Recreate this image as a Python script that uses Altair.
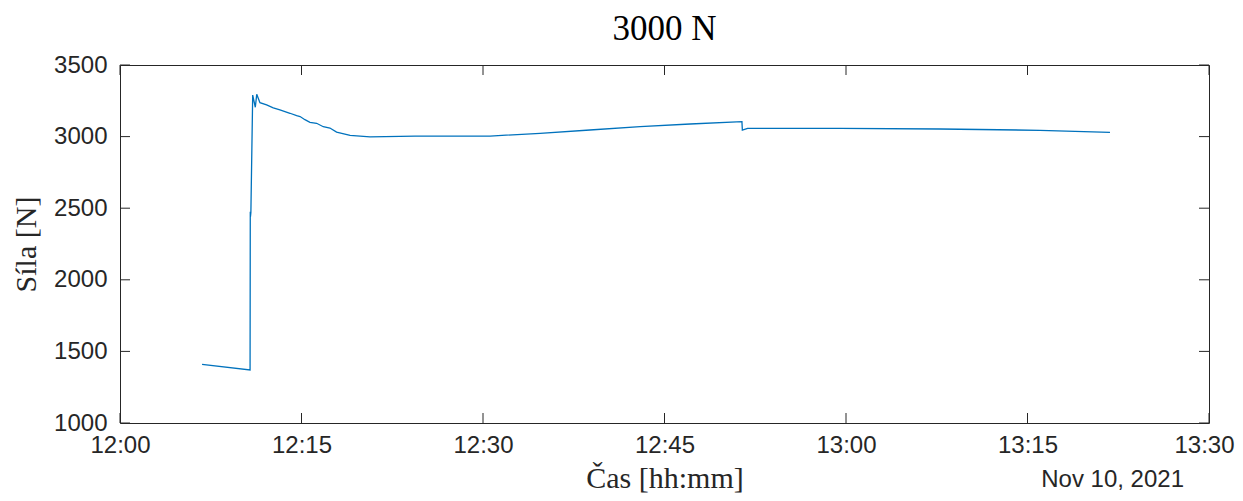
import altair as alt
import pandas as pd

# --- data ---
times = [
    "12:06:47", "12:10:45", "12:10:46", "12:10:47", "12:10:49", "12:10:58",
    "12:11:11", "12:11:18", "12:11:34", "12:12:07", "12:12:40", "12:13:13",
    "12:14:03", "12:14:36", "12:14:53", "12:15:17", "12:15:42", "12:16:15",
    "12:16:48", "12:17:21", "12:17:54", "12:19:01", "12:20:40", "12:24:23",
    "12:30:35", "12:34:43", "12:38:50", "12:42:59", "12:47:07", "12:51:24",
    "12:51:26", "12:51:52", "12:59:30", "13:07:46", "13:16:02", "13:21:49",
]
force = [
    1410, 1370, 2476, 2441, 2470, 3290,
    3205, 3295, 3237, 3221, 3200, 3186,
    3163, 3146, 3140, 3118, 3100, 3093,
    3069, 3060, 3032, 3009, 2998, 3004,
    3004, 3023, 3046, 3069, 3088, 3104,
    3046, 3058, 3058, 3053, 3044, 3030,
]
x_ticks = ["12:00", "12:15", "12:30", "12:45", "13:00", "13:15", "13:30"]
y_ticks = [1000, 1500, 2000, 2500, 3000, 3500]
title_text = "3000 N"
x_title = "Čas [hh:mm]"
y_title = "Síla [N]"
date_label = "Nov 10, 2021"
day = "2021-11-10"

W, H = 1089, 358
AX = "#262626"
LINE = "#0072BD"


def dt(hm):
    parts = [int(p) for p in hm.split(":")]
    while len(parts) < 3:
        parts.append(0)
    return alt.DateTime(year=2021, month=11, date=10,
                        hours=parts[0], minutes=parts[1], seconds=parts[2])


df = pd.DataFrame({"t": [f"{day}T{t}" for t in times], "f": force})
xt = pd.DataFrame({"t": [f"{day}T{t}:00" for t in x_ticks]})
yt = pd.DataFrame({"f": y_ticks})
lab = pd.DataFrame({"lbl": [date_label]})

x_scale = alt.Scale(domain=[dt(x_ticks[0]), dt(x_ticks[-1])], nice=False)
y_scale = alt.Scale(domain=[y_ticks[0], y_ticks[-1]], nice=False, zero=False)

x_axis = alt.Axis(values=[dt(t) for t in x_ticks], format="%H:%M",
                  title=x_title, labelPadding=10, ticks=False, domain=False,
                  grid=False, labelFlush=False, labelOverlap=False,
                  labelOffset={"condition": {"test": "datum.index == 1",
                                             "value": -5},
                               "value": 0},
                  titleY=64, titleBaseline="alphabetic",
                  titleFont="Liberation Serif", titleFontSize=30,
                  titleFontWeight="normal", titleColor=AX,
                  labelFont="Liberation Sans", labelFontSize=24, labelColor=AX)
y_axis = alt.Axis(values=y_ticks, format="d", title=y_title, labelPadding=13,
                  ticks=False, domain=False, grid=False, labelFlush=False,
                  labelOverlap=False,
                  titleX=-94, titleY=H / 2, titleAngle=270,
                  titleAlign="center", titleBaseline="middle",
                  titleFont="Liberation Serif", titleFontSize=30,
                  titleFontWeight="normal", titleColor=AX,
                  labelFont="Liberation Sans", labelFontSize=24, labelColor=AX)

X = alt.X("t:T", scale=x_scale, axis=x_axis)
Y = alt.Y("f:Q", scale=y_scale, axis=y_axis)

line = alt.Chart(df).mark_line(color=LINE, strokeWidth=1.3, clip=True).encode(
    x=X, y=Y)

xb = alt.Chart(xt).mark_rule(color=AX, strokeWidth=1).encode(
    x=X, y=alt.value(H), y2=alt.value(H - 10))
xtp = alt.Chart(xt).mark_rule(color=AX, strokeWidth=1).encode(
    x=X, y=alt.value(0), y2=alt.value(10))
yl = alt.Chart(yt).mark_rule(color=AX, strokeWidth=1).encode(
    y=Y, x=alt.value(0), x2=alt.value(10))
yr = alt.Chart(yt).mark_rule(color=AX, strokeWidth=1).encode(
    y=Y, x=alt.value(W), x2=alt.value(W - 10))

txt = alt.Chart(lab).mark_text(
    align="right", baseline="alphabetic", font="Liberation Sans",
    fontSize=24, color=AX).encode(
    text="lbl:N", x=alt.value(1064), y=alt.value(422))

chart = alt.layer(line, xb, xtp, yl, yr, txt).properties(
    width=W, height=H,
    background="white",
    title=alt.TitleParams(title_text, font="Liberation Serif", fontSize=35,
                          fontWeight="normal", color="black", anchor="middle",
                          offset=6),
    autosize=alt.AutoSizeParams(type="none"),
    padding={"left": 112, "top": 57, "right": 26, "bottom": 70},
).configure_view(stroke=AX, strokeWidth=1)

chart.save("out.html", embed_options={"renderer": "svg", "actions": False})
